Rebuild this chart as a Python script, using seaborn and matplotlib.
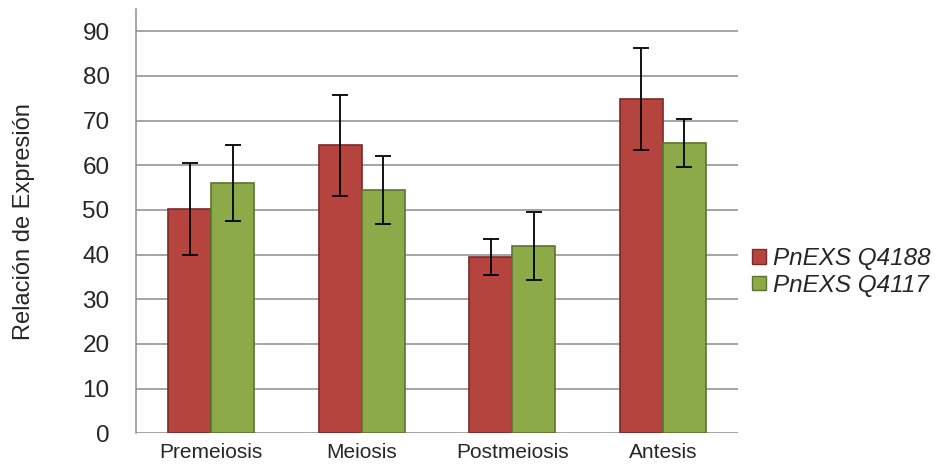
import numpy as np
import pandas as pd
import matplotlib
matplotlib.use("Agg")
import matplotlib.pyplot as plt
import seaborn as sns

# valores
stages = ["Premeiosis", "Meiosis", "Postmeiosis", "Antesis"]
series = ["PnEXS Q4188", "PnEXS Q4117"]
q4188 = [50.2, 64.5, 39.5, 74.8]
q4117 = [56.0, 54.5, 42.0, 65.0]
q4188_err = [10.3, 11.3, 4.1, 11.4]
q4117_err = [8.5, 7.6, 7.6, 5.4]
colors = ["#B5443F", "#8CAA48"]
edges = ["#7A2A27", "#5B7430"]

df = pd.DataFrame({
    "stage": stages * 2,
    "serie": [series[0]] * 4 + [series[1]] * 4,
    "value": q4188 + q4117,
})
errs = q4188_err + q4117_err

sns.set_style("white")
plt.rcParams["font.family"] = ["Liberation Sans", "DejaVu Sans"]

fig = plt.figure(figsize=(9.51, 4.75), dpi=100)
ax = fig.add_axes([0.143, 0.088, 0.633, 0.893])

sns.barplot(data=df, x="stage", y="value", hue="serie", order=stages,
            hue_order=series, palette=colors, errorbar=None, width=0.57,
            saturation=1, ax=ax, zorder=3)

# bordes oscuros y barras de error
for i, bar in enumerate(ax.patches[:8]):
    bar.set_edgecolor(edges[i // 4])
    bar.set_linewidth(1.2)
    cx = bar.get_x() + bar.get_width() / 2
    ax.errorbar(cx, bar.get_height(), yerr=errs[i], color="black",
                capsize=6, elinewidth=1.3, capthick=1.3, zorder=4)

ax.set_ylim(0, 95)
ax.set_yticks(np.arange(0, 91, 10))
ax.set_xlim(-0.5, 3.5)
ax.yaxis.grid(True, color="#8C8C8C", linewidth=1.1, zorder=0)
ax.set_axisbelow(True)
for s in ["top", "right", "bottom"]:
    ax.spines[s].set_visible(False)
ax.spines["left"].set_color("#8C8C8C")
ax.spines["left"].set_linewidth(1.1)
ax.tick_params(axis="y", length=8, color="#8C8C8C", width=1.1,
               labelsize=17.5, pad=11)
ax.tick_params(axis="x", length=0, labelsize=15, pad=7)
ax.set_xlabel("")
ax.set_ylabel("Relación de Expresión", fontsize=17, labelpad=34)

ax.legend_.remove()
handles = [plt.Rectangle((0, 0), 1, 1, facecolor=c, edgecolor=e)
           for c, e in zip(colors, edges)]
leg = fig.legend(handles, series, loc="center left",
                 bbox_to_anchor=(0.781, 0.428), frameon=False,
                 prop={"style": "italic", "size": 17.5}, handlelength=0.55,
                 handleheight=0.55, handletextpad=0.3, labelspacing=0.15,
                 borderaxespad=0)

fig.savefig("out.png", dpi=100)
